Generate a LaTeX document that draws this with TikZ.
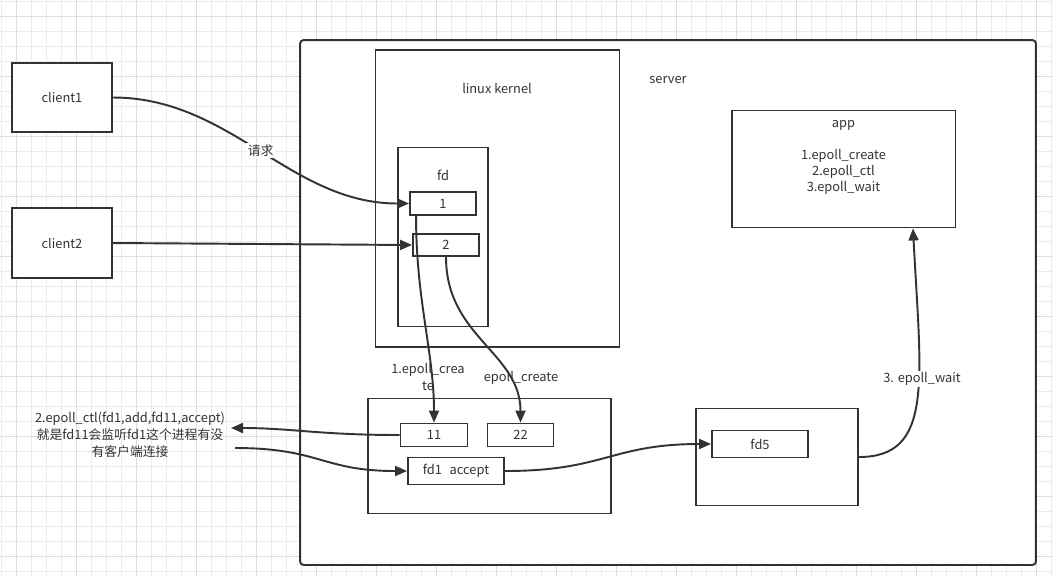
\documentclass[tikz,border=0pt]{standalone}
\usepackage{fontspec}
\setmainfont{Noto Sans CJK SC}
\usepackage{xcolor}
\usepackage{tikz}
\usetikzlibrary{positioning, calc, arrows.meta}

\definecolor{ink}{HTML}{333333}
\definecolor{gridminor}{HTML}{EBEBEB}
\definecolor{gridmajor}{HTML}{DDDDDD}

\begin{document}
\begin{tikzpicture}[x=0.02cm, y=-0.02cm, line width=1.1pt, >={Triangle[length=2.4mm, width=2mm]}]
        % Define block styles
        \tikzstyle{block} = [rectangle, draw=ink, fill=white, text=ink, inner sep=0pt, font=\fontsize{7.3}{9.2}\selectfont]
        \tikzstyle{txt} = [text=ink, inner sep=1pt, align=center, font=\fontsize{7.3}{9.2}\selectfont]
        \tikzstyle{link} = [draw=ink, ->]

        \useasboundingbox (0,0) rectangle (1053,576);

        % Background grid
        \foreach \gx in {1.7,16.7,...,1053} \draw[gridminor, line width=0.5pt] (\gx,0) -- (\gx,576);
        \foreach \gy in {1.7,16.7,...,576} \draw[gridminor, line width=0.5pt] (0,\gy) -- (1053,\gy);
        \foreach \gx in {16.7,76.7,...,1053} \draw[gridmajor, line width=0.5pt] (\gx,0) -- (\gx,576);
        \foreach \gy in {16.7,76.7,...,576} \draw[gridmajor, line width=0.5pt] (0,\gy) -- (1053,\gy);

        % Place nodes
        \node [block, minimum width=2cm, minimum height=1.38cm] (client1) at (62,97.5) {client1};
        \node [block, minimum width=2cm, minimum height=1.4cm] (client2) at (62,243) {client2};

        \node [block, rounded corners=2pt, minimum width=14.72cm, minimum height=10.5cm] (server) at (668,302.5) {};
        \node [txt] (server_label) at (668,80.5) {server};

        \node [block, minimum width=4.88cm, minimum height=5.94cm] (kernel) at (497.5,198.5) {};
        \node [txt] (kernel_label) at (497,88) {linux kernel};

        \node [block, minimum width=1.8cm, minimum height=3.58cm] (fd_box) at (443,237) {};
        \node [txt] (fd_label) at (443,175) {fd};
        \node [block, minimum width=1.32cm, minimum height=0.46cm] (fd1) at (443,203.5) {1};
        \node [block, minimum width=1.32cm, minimum height=0.44cm] (fd2) at (446,245) {2};

        \node [block, minimum width=4.48cm, minimum height=2.34cm] (app) at (843.5,169) {};
        \node [txt, font=\fontsize{7.3}{9.1}\selectfont] (app_label) at (843.5,157.5) {app\\ \\1.epoll\_create\\2.epoll\_ctl\\3.epoll\_wait};

        \node [block, minimum width=4.86cm, minimum height=2.3cm] (epoll_box) at (489.5,456) {};
        \node [block, minimum width=1.34cm, minimum height=0.46cm] (fd11) at (434,435) {11};
        \node [block, minimum width=1.32cm, minimum height=0.46cm] (fd22) at (520.5,435) {22};
        \node [block, minimum width=1.92cm, minimum height=0.54cm] (fd1_accept) at (456,471) {fd1\hspace{0.6em}accept};

        \node [block, minimum width=3.24cm, minimum height=1.94cm] (fd5_box) at (777,457) {};
        \node [block, minimum width=1.92cm, minimum height=0.54cm] (fd5) at (760,444) {fd5};

        \node [txt, font=\fontsize{7.3}{9.6}\selectfont] (ctl_note) at (130,435) {2.epoll\_ctl(fd1,add,fd11,accept)\\就是fd11会监听fd1这个进程有没\\有客户端连接};
        \coordinate (ctl_in) at (231,428);
        \coordinate (ctl_out) at (235,448);

        % Draw connections as arrows
        \draw [link] (client1.east) .. controls +(118,0) and +(-119,0) .. node[txt, fill=white, pos=0.5] (req) {请求} (fd1.west);
        \draw [link] (client2.east) -- (fd2.west);
        \draw [link] ($(fd1.south west)+(7,0)$) .. controls +(0,85) and +(0,-70) .. (fd11.north);
        \draw [link] (fd2.south) .. controls +(0,80) and +(0,-70) .. (fd22.north);
        \draw [link] (fd11.west) .. controls +(-80,0) and +(60,0) .. (ctl_in);
        \draw [link] (ctl_out) .. controls +(85,0) and +(-85,0) .. (fd1_accept.west);
        \draw [link] (fd1_accept.east) .. controls +(100,0) and +(-100,0) .. (fd5.west);
        \draw [link] (fd5_box.east) .. controls +(75,0) and +(8,152) .. ($(app.south east)+(-43.5,0)$);

        % Add text on the arrows
        \node [txt] (create1_label) at (428,377) {1.epoll\_crea\\te};
        \node [txt] (create2_label) at (521,378) {epoll\_create};
        \node [txt, fill=white] (wait_label) at (922,379) {3. epoll\_wait};
    \end{tikzpicture}
\end{document}
